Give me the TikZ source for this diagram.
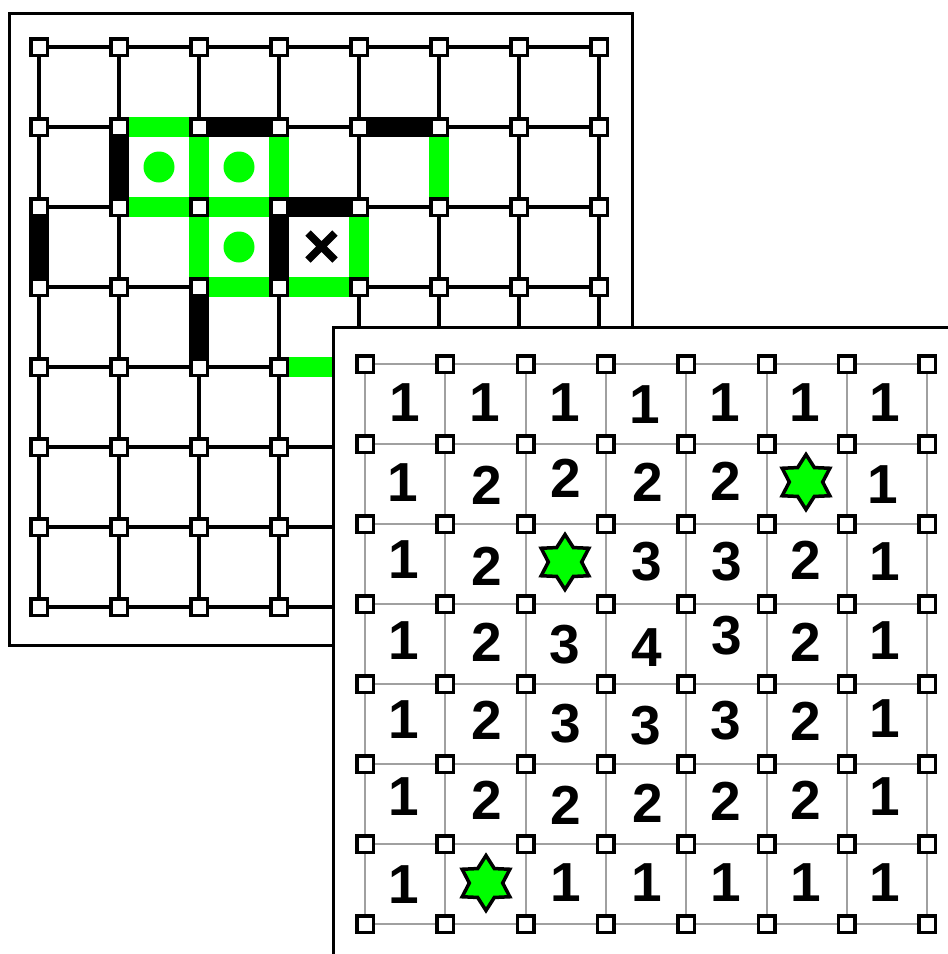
\documentclass[tikz,border=0pt]{standalone}
\usepackage{fontspec}
\setmainfont{Liberation Sans}
\usetikzlibrary{shapes.geometric}
\definecolor{ngreen}{RGB}{0,255,0}
\definecolor{lgray}{RGB}{160,160,160}
\begin{document}
\begin{tikzpicture}[x=1pt,y=-1pt,
  lsq/.style={rectangle, draw, line width=3.5pt, fill=white, minimum size=16.5pt, inner sep=0pt},
  rsq/.style={rectangle, draw, line width=3.5pt, fill=white, minimum size=16.5pt, inner sep=0pt},
  lline/.style={line width=3.5pt},
  rline/.style={line width=2pt, draw=lgray},
  gbar/.style={line width=20pt, draw=ngreen},
  bbar/.style={line width=20pt, draw=black},
  gdot/.style={circle, fill=ngreen, minimum size=31pt, inner sep=0pt},
  num/.style={font=\fontsize{55}{55}\selectfont\bfseries, inner sep=0pt},
  hstar/.style={star, star points=6, star point ratio=1.65, draw, line width=3.5pt, fill=ngreen, minimum size=55pt, inner sep=0pt},
  frame/.style={draw, line width=3pt, fill=white}]
\useasboundingbox (0,0) rectangle (948,954);
\clip (0,0) rectangle (948,954);
% ---------- left panel ----------
\draw[frame] (9,13) rectangle (632,645);
\foreach \i in {0,...,7}
  \foreach \j in {0,...,7}
    \node[lsq] (L-\i-\j) at ({39+80*\i},{47+80*\j}) {};
\foreach \i in {0,...,6}
  \foreach \j in {0,...,7} {
    \pgfmathtruncatemacro\ni{\i+1}
    \draw[lline] (L-\i-\j) -- (L-\ni-\j);
    \draw[lline] (L-\j-\i) -- (L-\j-\ni);
  }
\foreach \a/\b in {1-1/2-1, 5-1/5-2, 2-1/2-2, 3-1/3-2, 1-2/2-2, 2-2/3-2,
                   2-2/2-3, 4-2/4-3, 2-3/3-3, 3-3/4-3, 3-4/4-4}
  \draw[gbar] (L-\a) -- (L-\b);
\foreach \a/\b in {2-1/3-1, 4-1/5-1, 1-1/1-2, 3-2/4-2, 0-2/0-3, 3-2/3-3, 2-3/2-4}
  \draw[bbar] (L-\a) -- (L-\b);
\node[gdot] (dot1) at (159,167) {};
\node[gdot] (dot2) at (239,167) {};
\node[gdot] (dot3) at (239,247) {};
\draw[line width=7.5pt] (308,233) -- (335,260) (308,260) -- (335,233);
% ---------- right panel ----------
\draw[frame] (333,327) rectangle (990,990);
\foreach \i in {0,...,7}
  \foreach \j in {0,...,7}
    \node[rsq] (R-\i-\j) at ({365+80.3*\i},{364+80*\j}) {};
\foreach \i in {0,...,6}
  \foreach \j in {0,...,7} {
    \pgfmathtruncatemacro\ni{\i+1}
    \draw[rline] (R-\i-\j) -- (R-\ni-\j);
    \draw[rline] (R-\j-\i) -- (R-\j-\ni);
  }
\foreach \x/\y/\t [count=\k] in {
  405/403/1, 485/403/1, 565/403/1, 645/405/1, 725/403/1, 805/403/1, 885/403/1,
  403/483/1, 487/485/2, 566/478/2, 648/482/2, 726/481/2, 883/485/1,
  404/560/1, 487/566/2, 647/562/3, 727/562/3, 806/560/2, 885/562/1,
  404/641/1, 487/642/2, 565/645/3, 647/648/4, 727/636/3, 806/642/2, 885/641/1,
  404/720/1, 487/720/2, 566/724/3, 646/726/3, 726/721/3, 806/721/2, 885/719/1,
  404/797/1, 487/800/2, 566/805/2, 648/803/2, 726/801/2, 806/800/2, 885/797/1,
  404/885/1, 566/883/1, 647/883/1, 726/883/1, 806/883/1, 885/883/1}
  \node[num] (num\k) at (\x,\y) {\t};
\node[hstar] (star1) at (806,482) {};
\node[hstar] (star2) at (565,562) {};
\node[hstar] (star3) at (486,883) {};
\end{tikzpicture}
\end{document}
